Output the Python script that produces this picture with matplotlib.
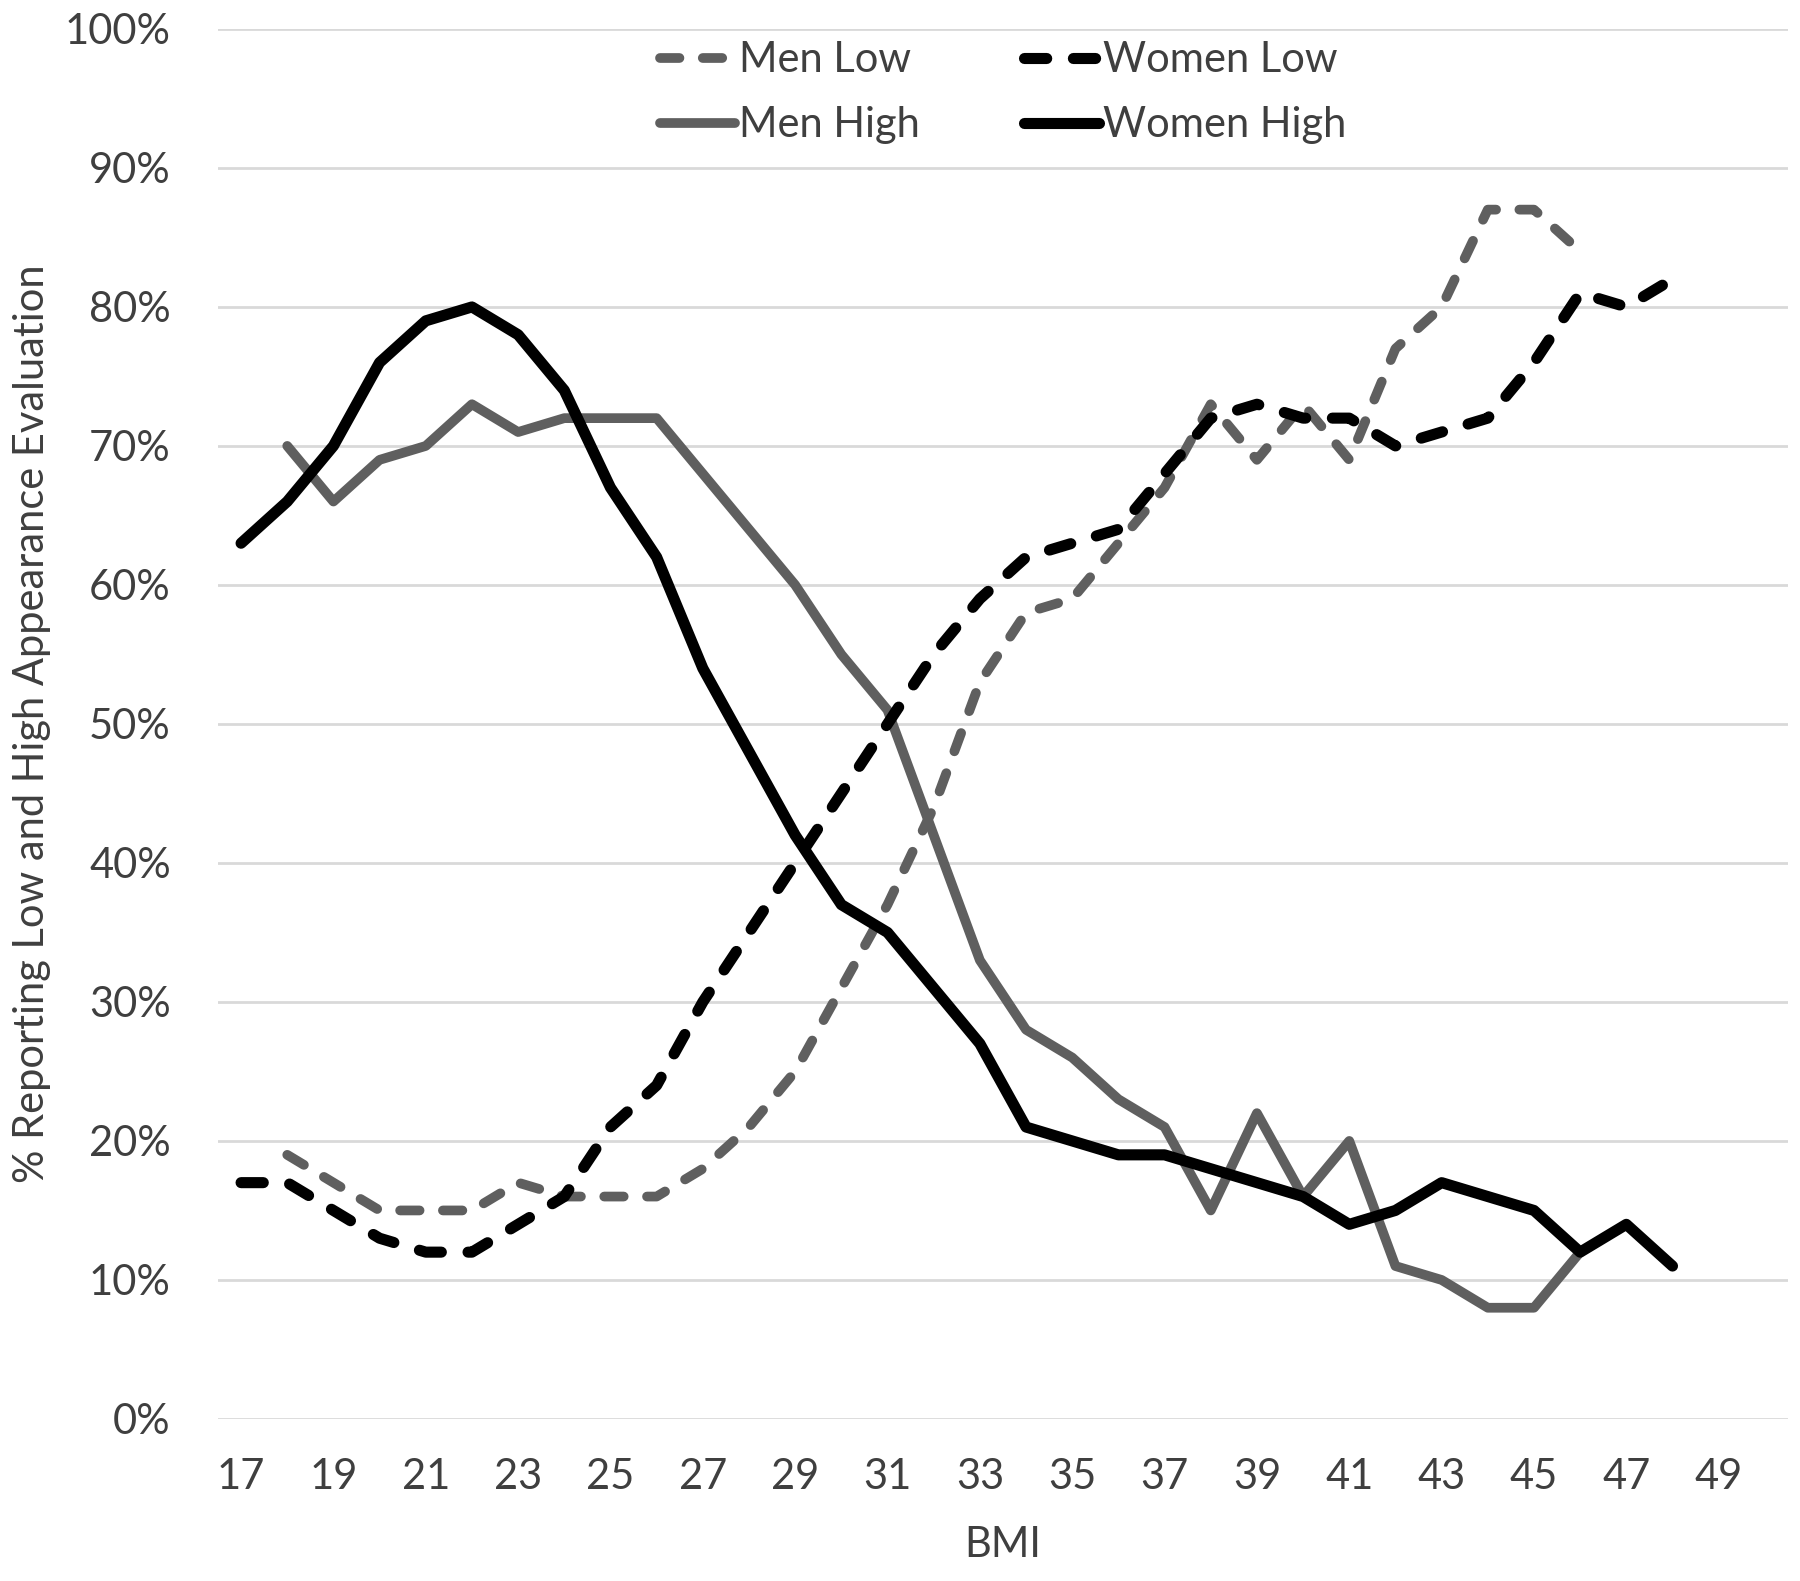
import numpy as np
import matplotlib
matplotlib.use("Agg")
import matplotlib.pyplot as plt
from matplotlib.ticker import PercentFormatter

plt.rcParams['font.family'] = ['Lato', 'DejaVu Sans']

# BMI categories on the x axis (Excel category axis, 17..50)
bmi = np.arange(17, 51)
tick_labels = [str(b) for b in range(17, 51, 2)]

# % reporting low / high appearance evaluation
men_low_bmi = np.arange(18, 47)
men_low = [19, 17, 15, 15, 15, 17, 16, 16, 16, 18, 21, 25, 31, 37, 44, 53,
           58, 59, 63, 67, 73, 69, 73, 69, 77, 80, 87, 87, 84]

women_low_bmi = np.arange(17, 49)
women_low = [17, 17, 15, 13, 12, 12, 14, 16, 21, 24, 30, 35, 40, 45, 50, 55,
             59, 62, 63, 64, 68, 72, 73, 72, 72, 70, 71, 72, 76, 81, 80, 82]

men_high_bmi = np.arange(18, 47)
men_high = [70, 66, 69, 70, 73, 71, 72, 72, 72, 68, 64, 60, 55, 51, 42, 33,
            28, 26, 23, 21, 15, 22, 16, 20, 11, 10, 8, 8, 12]

women_high_bmi = np.arange(17, 49)
women_high = [63, 66, 70, 76, 79, 80, 78, 74, 67, 62, 54, 48, 42, 37, 35, 31,
              27, 21, 20, 19, 19, 18, 17, 16, 14, 15, 17, 16, 15, 12, 14, 11]

gray = '#5f5f5f'
text_col = '#3f3f3f'

fig = plt.figure(figsize=(18, 15.81), dpi=100)
ax = fig.add_axes([0.1211, 0.1025, 0.8722, 0.8792])

dash = (0, (2.0, 2.4))
ax.plot(men_low_bmi, men_low, color=gray, lw=7, ls=dash,
        dash_capstyle='round', solid_joinstyle='round', label='Men Low')
ax.plot(men_high_bmi, men_high, color=gray, lw=7,
        solid_capstyle='round', solid_joinstyle='round', label='Men High')
ax.plot(women_low_bmi, women_low, color='black', lw=8, ls=dash,
        dash_capstyle='round', solid_joinstyle='round', label='Women Low')
ax.plot(women_high_bmi, women_high, color='black', lw=8,
        solid_capstyle='round', solid_joinstyle='round', label='Women High')

ax.set_xlim(16.5, 50.5)
ax.set_ylim(0, 100)
ax.set_xticks(range(17, 51, 2))
ax.set_xticklabels(tick_labels)
ax.set_yticks(range(0, 101, 10))
ax.yaxis.set_major_formatter(PercentFormatter(decimals=0))
ax.tick_params(axis='both', length=0, labelsize=30, colors=text_col)
ax.tick_params(axis='y', pad=34)
ax.tick_params(axis='x', pad=28)
ax.grid(axis='y', color='#d9d9d9', lw=2)
ax.set_axisbelow(True)
for s in ax.spines.values():
    s.set_visible(False)

ax.set_xlabel('BMI', fontsize=30, color=text_col, labelpad=22)
ax.set_ylabel('% Reporting Low and High Appearance Evaluation', fontsize=30,
              color=text_col, labelpad=10)

leg = ax.legend(loc='upper center', bbox_to_anchor=(0.5, 1.018), ncol=2,
                frameon=False, fontsize=30, handlelength=1.8,
                handletextpad=0.1, columnspacing=2.5, labelspacing=0.65,
                labelcolor=text_col)

fig.savefig('out.png', dpi=100)
